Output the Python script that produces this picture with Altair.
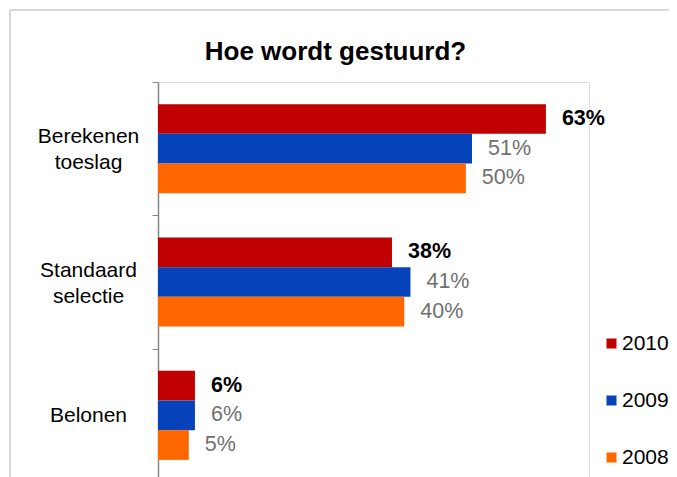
import altair as alt
import pandas as pd

categories = ["Berekenen toeslag", "Standaard selectie", "Belonen"]
years = ["2010", "2009", "2008"]
v2010 = [63, 38, 6]
v2009 = [51, 41, 6]
v2008 = [50, 40, 5]
colors = ["#C00000", "#0642BA", "#FF6600"]

rows = []
for i, c in enumerate(categories):
    for y, vals in zip(years, [v2010, v2009, v2008]):
        rows.append({"cat": c, "year": y, "value": vals[i]})
df = pd.DataFrame(rows)
df["label"] = df["value"].astype(str) + "%"

FONT = "Liberation Sans"

y_enc = alt.Y(
    "cat:N",
    sort=categories,
    scale=alt.Scale(range=[0, 400], paddingInner=0, paddingOuter=0),
    axis=alt.Axis(
        title=None,
        tickBand="extent",
        tickSize=6,
        tickColor="#868686",
        domainColor="#868686",
        domainWidth=1.5,
        labelFont=FONT,
        labelFontSize=21,
        labelColor="#000000",
        labelAlign="center",
        labelBaseline="middle",
        labelPadding=64,
        labelLineHeight=26,
        labelOffset={"condition": {"test": "datum.value != 'Belonen'", "value": -12}, "value": 0},
        labelExpr="split(datum.label, ' ')",
    ),
)
yoff = alt.YOffset("year:N", sort=years, scale=alt.Scale(paddingOuter=0.747, paddingInner=0))
x_enc = alt.X("value:Q", scale=alt.Scale(domain=[0, 70]), axis=None)

base = alt.Chart(df)

bars = base.mark_bar(size=29.7).encode(
    x=x_enc,
    y=y_enc,
    yOffset=yoff,
    color=alt.Color(
        "year:N",
        scale=alt.Scale(domain=years, range=colors),
        legend=alt.Legend(
            title=None,
            orient="none",
            legendX=443,
            legendY=251,
            symbolType="square",
            symbolSize=100,
            symbolStrokeWidth=0,
            labelFont=FONT,
            labelFontSize=21,
            labelColor="#000000",
            labelOffset=0,
            rowPadding=35,
            padding=0,
        ),
    ),
)

txt_bold = base.transform_filter("datum.year == '2010'").mark_text(
    align="left", baseline="middle", dx=16, font=FONT, fontSize=21.5, fontWeight="bold", color="#000000"
).encode(x=x_enc, y=y_enc, yOffset=yoff, text="label:N")

txt_reg = base.transform_filter("datum.year != '2010'").mark_text(
    align="left", baseline="middle", dx=16, font=FONT, fontSize=21.5, color="#707070"
).encode(x=x_enc, y=y_enc, yOffset=yoff, text="label:N")

frame_df = pd.DataFrame({"a": [0]})
frame_top = alt.Chart(frame_df).mark_rule(color="#d9d9d9", strokeWidth=2).encode(
    x=alt.value(-148), x2=alt.value(600), y=alt.value(-72)
)
frame_left = alt.Chart(frame_df).mark_rule(color="#d9d9d9", strokeWidth=2).encode(
    x=alt.value(-148), y=alt.value(-72), y2=alt.value(420)
)

chart = alt.layer(frame_top, frame_left, bars, txt_bold, txt_reg).properties(
    width=431,
    height=395,
    autosize=alt.AutoSizeParams(type="none"),
    padding={"left": 150, "top": 74, "right": 80, "bottom": 0},
    title=alt.TitleParams(
        "Hoe wordt gestuurd?",
        font=FONT,
        fontSize=26,
        fontWeight="bold",
        color="#000000",
        anchor="middle",
        frame="group",
        baseline="alphabetic",
        dx=-38,
        offset=-77,
    ),
).configure_view(stroke="transparent").configure(background="white")

chart.save("out.html", embed_options={"renderer": "svg", "actions": False})
